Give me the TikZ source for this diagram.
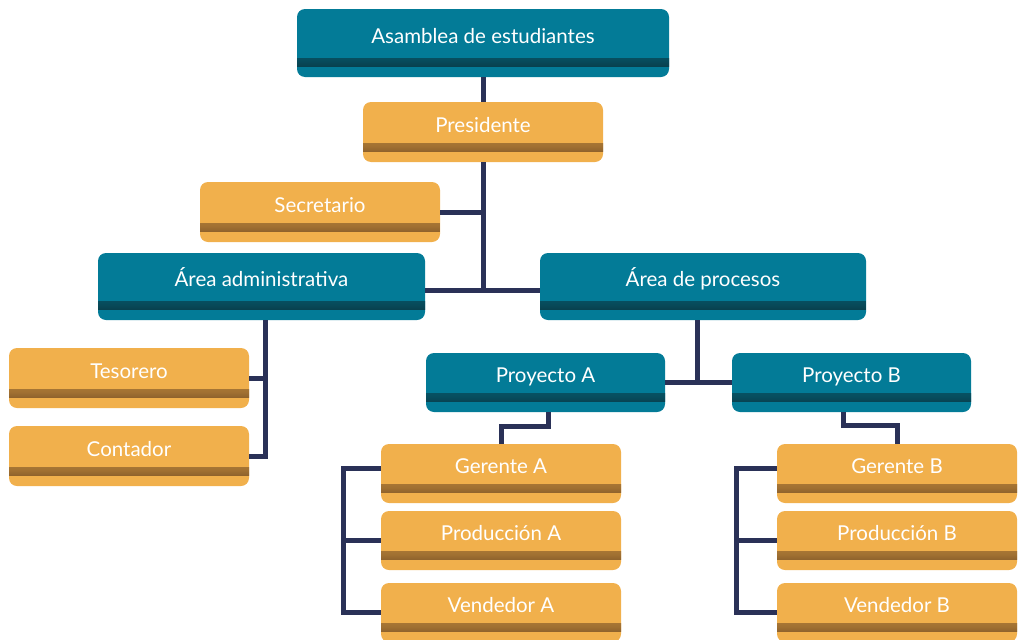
\documentclass[tikz,border=0pt]{standalone}
\usepackage{fontspec}
\setmainfont{Lato}
\usetikzlibrary{calc}
\definecolor{teal}{HTML}{037B97}
\definecolor{tealdark}{HTML}{0A2E37}
\definecolor{gold}{HTML}{F1B04C}
\definecolor{golddark}{HTML}{6A4520}
\definecolor{navy}{HTML}{2A3157}
\pgfdeclareverticalshading{tealband}{100bp}{color(0bp)=(tealdark); color(25bp)=(tealdark); color(38bp)=(tealdark!60!teal); color(75bp)=(teal); color(100bp)=(teal)}
\pgfdeclareverticalshading{goldband}{100bp}{color(0bp)=(golddark); color(25bp)=(golddark); color(38bp)=(golddark!60!gold); color(75bp)=(gold); color(100bp)=(gold)}
\tikzset{
  orgbox/.style n args={2}{rounded corners=8pt, fill=#1, draw=none, text=white,
    font=\fontsize{20.5}{22}\selectfont, inner sep=0pt, text height=0pt, text depth=0pt,
    path picture={\shade[sharp corners, shading=#2]
      ([yshift=10.5pt+8pt]path picture bounding box.south west) rectangle
      ([yshift=10.5pt]path picture bounding box.south east);}},
  tbox/.style={orgbox={teal}{tealband}},
  gbox/.style={orgbox={gold}{goldband}},
  link/.style={draw=navy, line width=5pt}
}
\begin{document}
\begin{tikzpicture}[x=1pt,y=-1pt]
\useasboundingbox (0,0) rectangle (1018,640);
\clip (0,0) rectangle (1018,640);
\node[tbox, minimum width=372pt, minimum height=68pt] (asm) at (483,43) {Asamblea de estudiantes};
\node[gbox, minimum width=240pt, minimum height=60pt] (pres) at (483,132) {Presidente};
\node[gbox, minimum width=240pt, minimum height=60pt] (sec) at (320,212) {Secretario};
\node[tbox, minimum width=327pt, minimum height=67pt] (admin) at (261.5,286.5) {Área administrativa};
\node[tbox, minimum width=326pt, minimum height=67pt] (proc) at (703,286.5) {Área de procesos};
\node[gbox, minimum width=240pt, minimum height=60pt] (tes) at (129,378) {Tesorero};
\node[gbox, minimum width=240pt, minimum height=60pt] (con) at (129,456) {Contador};
\node[tbox, minimum width=239pt, minimum height=59pt] (pa) at (545.5,382.5) {Proyecto A};
\node[tbox, minimum width=239pt, minimum height=59pt] (pb) at (851.5,382.5) {Proyecto B};
\node[gbox, minimum width=240pt, minimum height=59pt] (ga) at (501,473.5) {Gerente A};
\node[gbox, minimum width=240pt, minimum height=59pt] (pra) at (501,540.5) {Producción A};
\node[gbox, minimum width=240pt, minimum height=59pt] (va) at (501,612.5) {Vendedor A};
\node[gbox, minimum width=240pt, minimum height=59pt] (gb) at (897,473.5) {Gerente B};
\node[gbox, minimum width=240pt, minimum height=59pt] (prb) at (897,540.5) {Producción B};
\node[gbox, minimum width=240pt, minimum height=59pt] (vb) at (897,612.5) {Vendedor B};
% connectors
\coordinate (hub) at (483,290);
\draw[link] (asm.south) -- (pres.north);
\draw[link] (pres.south) -- (hub);
\draw[link] (admin.east |- hub) -- (proc.west |- hub);
\draw[link] (sec.east) -- (sec.east -| hub);
\coordinate (admdrop) at ([xshift=3.5pt]admin.south);
\draw[link] (admdrop) |- (con.east);
\draw[link] (tes.east) -- (tes.east -| admdrop);
\coordinate (procdrop) at ([xshift=-6pt]proc.south);
\draw[link] (procdrop) -- (procdrop |- pa.east);
\draw[link] (pa.east) -- (pb.west);
\draw[link] ([xshift=2.5pt]pa.south) -- ++(0,14) -| (ga.north);
\draw[link] ([xshift=-8.5pt]pb.south) -- ++(0,13) -| (gb.north);
\coordinate (gaL) at ([xshift=-37pt,yshift=5pt]ga.west);
\draw[link] ([yshift=5pt]ga.west) -- (gaL) |- (va.west);
\draw[link] (pra.west) -- (pra.west -| gaL);
\coordinate (gbL) at ([xshift=-40pt,yshift=5pt]gb.west);
\draw[link] ([yshift=5pt]gb.west) -- (gbL) |- (vb.west);
\draw[link] (prb.west) -- (prb.west -| gbL);
\end{tikzpicture}
\end{document}
